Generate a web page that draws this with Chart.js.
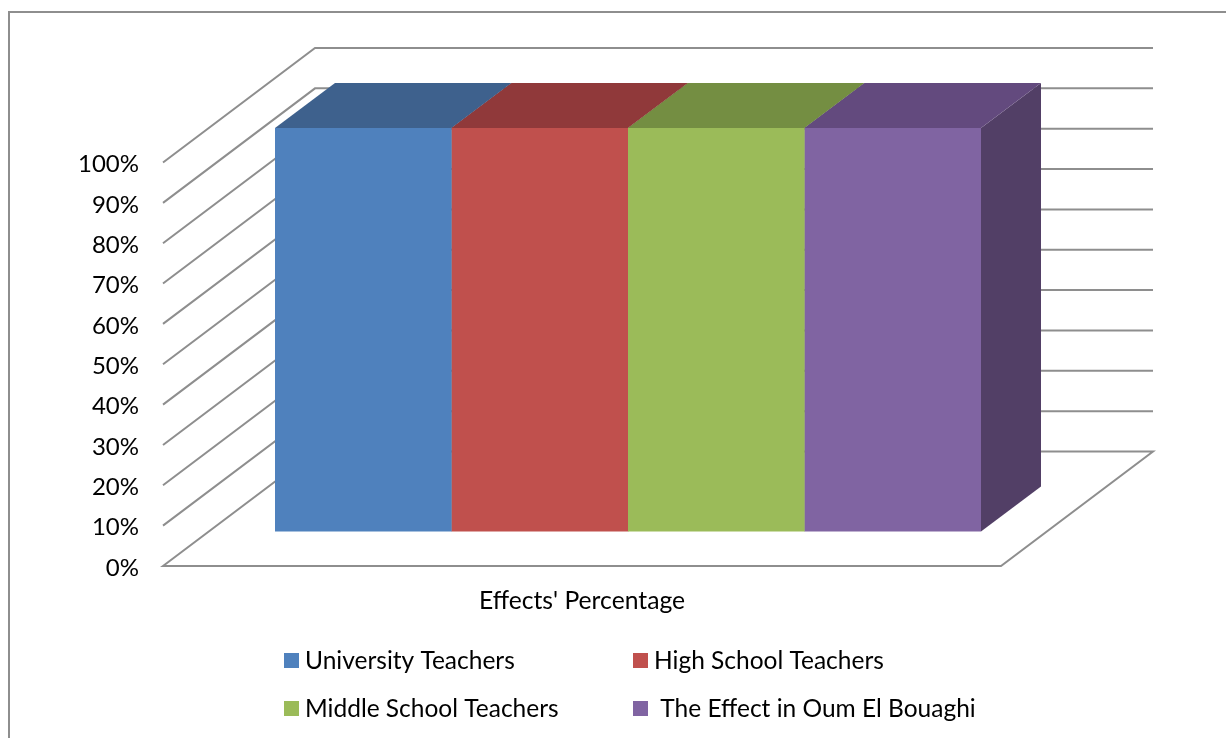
<!DOCTYPE html>
<html>
<head>
<meta charset="utf-8">
<title>Effects' Percentage</title>
<style>
  html, body { margin: 0; padding: 0; background: #fff; }
  canvas { display: block; }
</style>
<script src="https://cdn.jsdelivr.net/npm/chart.js@4"></script>
</head>
<body>
<canvas id="chart" width="1226" height="738"></canvas>
<script>
const categories = ["Effects' Percentage"];
const seriesNames = ['University Teachers', 'High School Teachers', 'Middle School Teachers', ' The Effect in Oum El Bouaghi'];
const universityTeachers = [100];
const highSchoolTeachers = [100];
const middleSchoolTeachers = [100];
const effectInOumElBouaghi = [100];
const frontColors = ['#4f81bd', '#c0504d', '#9bbb59', '#8064a2'];
const topColors = ['#3e618d', '#90393a', '#748e42', '#634a7e'];
const sideColors = ['#34506f', '#73302e', '#5d7236', '#523f66'];

const AXIS_FONT = { family: 'Lato', size: 24.7 };
const LEGEND_FONT = { family: 'Lato', size: 24.5 };
const TICK_FONT = { family: 'Lato', size: 24 };
const GRID = '#8e8e8e';
// Oblique projection of the plot: floor depth, and the bars' offset and depth within it.
const floorDepth = { x: 152, y: -114.5 };
const barOffset = { x: 46, y: -34.5 };
const barDepth = { x: 60, y: -45 };

// Walls, floor and bar depth faces behind the front faces, plus the outer frame.
const wallsPlugin = {
  id: 'walls',
  beforeDraw(chart) {
    // Sit the value labels slightly below their gridline ends.
    const y = chart.scales.y;
    y.getLabelItems().forEach((item, i) => {
      item.options.translation[1] = y.getPixelForTick(i) + 2;
    });
  },
  beforeDatasetsDraw(chart) {
    const { ctx, chartArea: a, scales: { y } } = chart;
    ctx.save();
    ctx.strokeStyle = GRID;
    ctx.lineWidth = 2;
    ctx.lineJoin = 'miter';

    ctx.beginPath();
    ctx.moveTo(1240, 12);
    ctx.lineTo(9, 12);
    ctx.lineTo(9, 760);
    ctx.stroke();

    y.ticks.forEach(t => {
      const py = y.getPixelForValue(t.value);
      ctx.beginPath();
      ctx.moveTo(a.left, py);
      ctx.lineTo(a.left + floorDepth.x, py + floorDepth.y);
      ctx.lineTo(a.right + floorDepth.x, py + floorDepth.y);
      if (t.value === 0) {
        ctx.lineTo(a.right, py);
        ctx.closePath();
      }
      ctx.stroke();
    });
    ctx.restore();

    chart.data.datasets.forEach((ds, i) => {
      chart.getDatasetMeta(i).data.forEach(bar => {
        const l = bar.x - bar.width / 2 + barOffset.x;
        const r = bar.x + bar.width / 2 + barOffset.x;
        const t = bar.y + barOffset.y;
        const b = bar.base + barOffset.y;
        ctx.fillStyle = sideColors[i];
        ctx.beginPath();
        ctx.moveTo(r, t);
        ctx.lineTo(r + barDepth.x, t + barDepth.y);
        ctx.lineTo(r + barDepth.x, b + barDepth.y);
        ctx.lineTo(r, b);
        ctx.closePath();
        ctx.fill();
        ctx.fillStyle = topColors[i];
        ctx.beginPath();
        ctx.moveTo(l, t);
        ctx.lineTo(l + barDepth.x, t + barDepth.y);
        ctx.lineTo(r + barDepth.x, t + barDepth.y);
        ctx.lineTo(r, t);
        ctx.closePath();
        ctx.fill();
      });
    });

    // Front faces come from the library's own bar elements, shifted into the floor.
    ctx.save();
    ctx.translate(barOffset.x, barOffset.y);
  },
  afterDatasetsDraw(chart) {
    chart.ctx.restore();
  }
};

// Two-column legend with aligned swatches.
const legendPlugin = {
  id: 'gridLegend',
  afterDraw(chart) {
    const { ctx } = chart;
    const slots = [[284, 653], [633, 653], [284, 701], [633, 701]];
    ctx.save();
    ctx.font = `${LEGEND_FONT.size}px ${LEGEND_FONT.family}`;
    ctx.textBaseline = 'alphabetic';
    chart.data.datasets.forEach((ds, i) => {
      const [x, y] = slots[i];
      ctx.fillStyle = ds.backgroundColor;
      ctx.fillRect(x, y, 15, 15);
      ctx.fillStyle = '#000';
      ctx.fillText(ds.label, x + 21, y + 15.5);
    });
    ctx.restore();
  }
};

const seriesValues = [universityTeachers, highSchoolTeachers, middleSchoolTeachers, effectInOumElBouaghi];

new Chart(document.getElementById('chart'), {
  type: 'bar',
  data: {
    labels: categories,
    datasets: seriesNames.map((label, i) => ({
      label,
      data: seriesValues[i],
      backgroundColor: frontColors[i],
      clip: false,
      categoryPercentage: 706 / 838,
      barPercentage: 1
    }))
  },
  options: {
    responsive: false,
    animation: false,
    layout: { padding: { left: 0, top: 162.5, right: 225, bottom: 122 } },
    plugins: { legend: { display: false }, tooltip: { enabled: false } },
    scales: {
      x: {
        grid: { display: false, drawTicks: false },
        border: { display: false },
        ticks: { color: '#000', font: AXIS_FONT, padding: 20 },
        afterFit(s) { s.height = 50; }
      },
      y: {
        min: 0,
        max: 100,
        grid: { display: false, drawTicks: false },
        border: { display: false },
        ticks: { stepSize: 10, color: '#000', font: TICK_FONT, padding: 24, callback: v => v + '%' },
        afterFit(s) { s.width = 163; }
      }
    }
  },
  plugins: [wallsPlugin, legendPlugin]
});
</script>
</body>
</html>
